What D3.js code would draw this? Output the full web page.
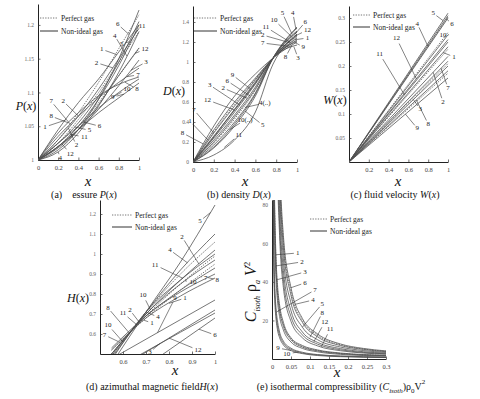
<!DOCTYPE html>
<html><head><meta charset="utf-8">
<script src="https://cdn.jsdelivr.net/npm/d3@7"></script>
<style>
body{margin:0;background:#fff}
svg{display:block}
svg text{font-family:'Liberation Serif','DejaVu Serif',serif !important}
</style>
</head><body>
<svg id="c" width="480" height="399" font-family="Liberation Serif, DejaVu Serif, serif"></svg>
<script>
// ---------------- DATA ----------------
// (a) pressure P(x): values at xGridP, curves 1..12
const xGridP = [0, 0.2, 0.4, 0.6, 0.8, 1];
const pressureNonIdeal = [
  [1, 1.045, 1.085, 1.12, 1.16, 1.2],
  [1, 1.03, 1.065, 1.105, 1.15, 1.195],
  [1, 1.02, 1.045, 1.075, 1.11, 1.148],
  [1, 1.012, 1.04, 1.08, 1.13, 1.19],
  [1, 1.025, 1.055, 1.095, 1.145, 1.205],
  [1, 1.015, 1.045, 1.09, 1.15, 1.222],
  [1, 1.035, 1.065, 1.092, 1.115, 1.136],
  [1, 1.04, 1.07, 1.095, 1.112, 1.123],
  [1, 1.02, 1.045, 1.07, 1.092, 1.114],
  [1, 1.025, 1.05, 1.077, 1.1, 1.12],
  [1, 1.02, 1.05, 1.09, 1.14, 1.2],
  [1, 1.018, 1.045, 1.082, 1.125, 1.166]
];
const pressurePerfect = [
  [1, 1.03, 1.07, 1.115, 1.165, 1.215],
  [1, 1.025, 1.06, 1.1, 1.145, 1.19],
  [1, 1.02, 1.05, 1.085, 1.125, 1.165]
];
// label text, text x, text y, curve number, curve x
const pressureLabels = [
  ["6",0.79,1.201,6,0.9],["11",1.03,1.199,11,0.96],["4",0.76,1.184,4,0.88],
  ["5",0.83,1.172,5,0.9],["12",1.06,1.164,12,0.96],["1",0.63,1.164,1,0.78],
  ["3",1.07,1.145,3,0.92],["2",0.58,1.144,2,0.74],["7",0.99,1.126,7,0.88],
  ["10",0.88,1.105,10,0.74],["8",0.98,1.105,8,0.86],["9",0.74,1.093,9,0.85],
  ["7",0.13,1.087,7,0.32],["2",0.25,1.087,2,0.4],["8",0.13,1.065,8,0.3],
  ["6",0.61,1.05,6,0.45],["1",0.07,1.049,1,0.27],["5",0.51,1.044,5,0.36],
  ["11",0.46,1.034,11,0.32],["2",0.38,1.022,2,0.3],["12",0.32,1.009,12,0.24],
  ["4",0.22,1.003,4,0.2]
];
const pressureXTicks = [0, 0.2, 0.4, 0.6, 0.8, 1];
const pressureYTicks = [1, 1.05, 1.1, 1.15, 1.2];

// (b) density D(x)
const xGridD = [0, 0.2, 0.4, 0.6, 0.77, 1];
const densityNonIdeal = [
  [0, 0.32, 0.6, 0.84, 1.04, 1.24],
  [0, 0.22, 0.47, 0.75, 1.04, 1.26],
  [0, 0.24, 0.5, 0.78, 1.04, 1.17],
  [0, 0.17, 0.4, 0.69, 1.04, 1.34],
  [0, 0.14, 0.36, 0.66, 1.04, 1.35],
  [0, 0.2, 0.45, 0.73, 1.04, 1.3],
  [0, 0.29, 0.56, 0.82, 1.04, 1.22],
  [0, 0.36, 0.66, 0.88, 1.04, 1.2],
  [0, 0.25, 0.53, 0.8, 1.04, 1.21],
  [0, 0.15, 0.38, 0.68, 1.04, 1.31],
  [0, 0.07, 0.22, 0.5, 0.98, 1.27],
  [0, 0.26, 0.52, 0.79, 1.04, 1.28]
];
const densityPerfect = [
  [0, 0.3, 0.58, 0.83, 1.04, 1.25],
  [0, 0.19, 0.43, 0.72, 1.04, 1.31],
  [0, 0.25, 0.52, 0.79, 1.04, 1.28]
];
const densityLabels = [
  ["5",0.86,1.49,5,0.95],["4",0.96,1.49,4,0.99],["6",1.08,1.4,6,0.98],
  ["10",0.78,1.42,10,0.95],["12",1.1,1.32,12,0.98],["11",0.7,1.35,11,0.94],
  ["1",1.1,1.24,1,0.98],["2",0.67,1.27,2,0.93],["7",0.67,1.19,7,0.92],
  ["9",1.06,1.15,9,0.98],["8",0.89,1.05,8,0.95],["3",1.01,1.04,3,0.97],
  ["9",0.38,0.87,9,0.55],["6",0.33,0.81,6,0.55],["3",0.16,0.77,3,0.45],
  ["2",0.29,0.74,2,0.52],["4(..)",0.69,0.59,4,0.5],["12",0.14,0.62,12,0.4],
  ["7",0.01,0.52,7,0.2],["5",0.67,0.37,5,0.5],["10(..)",0.5,0.42,10,0.35],
  ["1",-0.03,0.41,1,0.14],["8",-0.1,0.29,8,0.1],["11",0.44,0.27,11,0.3]
];
const densityXTicks = [0, 0.2, 0.4, 0.6, 0.8, 1];
const densityYTicks = [0, 0.2, 0.4, 0.6, 0.8, 1, 1.2, 1.4];

// (c) fluid velocity W(x)
const xGridW = [0, 1];
const velocityNonIdeal = [
  [0, 0.24], [0, 0.22], [0, 0.2], [0, 0.3], [0, 0.31], [0, 0.305],
  [0, 0.21], [0, 0.19], [0, 0.175], [0, 0.265], [0, 0.25], [0, 0.255]
];
const velocityPerfect = [[0, 0.302], [0, 0.27], [0, 0.235], [0, 0.205], [0, 0.185]];
const velocityLabels = [
  ["5",0.85,0.31,5,0.95],["6",1.04,0.288,6,0.98],["4",0.69,0.288,4,0.8],
  ["10",0.95,0.265,10,1.0],["12",0.48,0.258,12,0.68],["1",1.06,0.219,1,0.95],
  ["11",0.31,0.225,11,0.56],["7",1.0,0.154,7,0.93],["2",0.95,0.125,2,0.85],
  ["3",0.72,0.11,3,0.65],["8",0.8,0.079,8,0.68],["9",0.69,0.07,9,0.57]
];
const velocityXTicks = [0.2, 0.4, 0.6, 0.8, 1];
const velocityYTicks = [0.05, 0.1, 0.15, 0.2, 0.25, 0.3];

// (d) azimuthal magnetic field H(x)
const xGridH = [0.55, 0.7, 0.85, 1];
const fieldNonIdeal = [
  [0.52, 0.68, 0.79, 0.88],
  [0.5, 0.7, 0.87, 1.02],
  [0.417, 0.513, 0.609, 0.705],
  [0.48, 0.71, 0.92, 1.1],
  [0.45, 0.71, 0.96, 1.245],
  [0.32, 0.44, 0.56, 0.68],
  [0.53, 0.69, 0.82, 0.93],
  [0.5, 0.69, 0.81, 0.9],
  [0.476, 0.574, 0.672, 0.77],
  [0.49, 0.7, 0.85, 0.97],
  [0.47, 0.71, 0.87, 1.0],
  [0.404, 0.509, 0.615, 0.72]
];
const fieldPerfect = [
  [0.5, 0.69, 0.85, 0.99],
  [0.52, 0.68, 0.82, 0.95],
  [0.49, 0.71, 0.9, 1.06]
];
const fieldLabels = [
  ["5",0.935,1.165,5,0.98],["2",0.857,1.085,2,0.93],["4",0.804,1.02,4,0.88],
  ["11",0.74,0.945,11,0.86],["10",0.904,0.86,10,0.87],["7",0.96,0.88,7,0.94],
  ["8",1.01,0.87,8,0.97],["1",0.87,0.78,1,0.8],["10",0.687,0.795,10,0.72],
  ["2",0.63,0.72,2,0.67],["8",0.535,0.73,8,0.63],["11",0.6,0.705,11,0.66],
  ["10",0.535,0.645,10,0.6],["4",0.752,0.685,4,0.7],["1",0.726,0.655,1,0.69],
  ["7",0.52,0.595,7,0.58],["9",0.826,0.78,9,0.75],["3",0.717,0.51,3,0.76],
  ["12",0.926,0.52,12,0.8],["6",1.0,0.595,6,0.93]
];
const fieldXTicks = [0.6, 0.7, 0.8, 0.9, 1];
const fieldYTicks = [0.6, 0.7, 0.8, 0.9, 1, 1.1, 1.2];

// (e) isothermal compressibility
const xGridC = [0.003, 0.005, 0.0075, 0.01, 0.015, 0.02, 0.03, 0.05, 0.08, 0.12, 0.18, 0.24, 0.3];
const compNonIdeal = [
  [187, 112, 75, 56, 37, 28, 19, 11, 7, 4.7, 3.1, 2.3, 1.9],
  [167, 100, 67, 50, 33, 25, 17, 10, 6.2, 4.2, 2.8, 2.1, 1.7],
  [147, 88, 59, 44, 29, 22, 15, 8.8, 5.5, 3.7, 2.4, 1.8, 1.5],
  [1100, 560, 330, 230, 140, 97, 58, 33, 19, 11.5, 7, 5, 3.8],
  [1000, 520, 300, 210, 125, 88, 52, 29, 16.5, 10, 6.2, 4.4, 3.4],
  [1200, 600, 360, 250, 150, 105, 64, 37, 21, 13, 7.8, 5.5, 4.2],
  [95, 56, 37, 28, 19, 14, 9.3, 5.6, 3.5, 2.3, 1.6, 1.2, 1.0],
  [900, 480, 280, 190, 112, 78, 46, 25, 14, 8.6, 5.4, 3.8, 3.0],
  [85, 44, 29, 22, 14.5, 11, 7.3, 4.4, 2.8, 1.8, 1.2, 0.9, 0.75],
  [90, 50, 33, 25, 16.5, 12.5, 8.3, 5, 3.1, 2.1, 1.4, 1.05, 0.85],
  [780, 400, 240, 160, 94, 64, 37, 19.5, 11, 6.8, 4.3, 3.1, 2.5],
  [840, 440, 260, 175, 102, 70, 41, 22, 12.5, 7.7, 4.8, 3.4, 2.7]
];
const compPerfect = [
  [1150, 580, 345, 240, 145, 100, 61, 35, 20, 12.3, 7.4, 5.2, 4.0],
  [177, 106, 71, 53, 35, 26, 18, 10.5, 6.5, 4.4, 2.9, 2.2, 1.8]
];
const compLabels = [
  ["1",0.068,55,1,0.0105],["2",0.079,50.4,2,0.0105],["3",0.087,45.2,3,0.011],
  ["6",0.087,39.5,6,0.05],["7",0.113,35.8,7,0.012],["4",0.108,30.6,4,0.06],
  ["5",0.132,28.6,5,0.08],["8",0.132,23.9,8,0.1],["12",0.139,19.2,12,0.11],
  ["11",0.153,15.6,11,0.13],["9",0.016,5.7,9,0.05],["10",0.039,2.6,10,0.07]
];
const compXTicks = [0, 0.05, 0.1, 0.15, 0.2, 0.25, 0.3];
const compYTicks = [20, 40, 60, 80];

const legendText = ["Perfect gas", "Non-ideal gas"];

// ---------------- DRAWING ----------------
const SERIF = "Liberation Serif, DejaVu Serif, serif";
const svg = d3.select("#c");
const LINE = "#4a4a4a";
const fmt = d => String(+d.toFixed(2));

function interp(xs, vs, xv) {
  for (let i = 0; i < xs.length - 1; i++) {
    if (xv <= xs[i + 1]) {
      const t = (xv - xs[i]) / (xs[i + 1] - xs[i]);
      return vs[i] + t * (vs[i + 1] - vs[i]);
    }
  }
  return vs[vs.length - 1];
}

function panel(o) {
  const g = svg.append("g").attr("font-family", SERIF);
  const x = d3.scaleLinear().domain(o.xDomain).range(o.xRange);
  const y = d3.scaleLinear().domain(o.yDomain).range(o.yRange);
  const cid = "clip-" + o.key;
  svg.append("clipPath").attr("id", cid).append("rect")
    .attr("x", o.xRange[0]).attr("y", o.yRange[1])
    .attr("width", o.xRange[1] - o.xRange[0] + 3)
    .attr("height", o.yRange[0] - o.yRange[1]);

  const ax = d3.axisBottom(x).tickValues(o.xTicks).tickFormat(fmt)
    .tickSizeInner(-2.5).tickSizeOuter(0).tickPadding(5);
  const ay = d3.axisLeft(y).tickValues(o.yTicks).tickFormat(fmt)
    .tickSizeInner(-2.5).tickSizeOuter(0).tickPadding(4);
  const gx = g.append("g").attr("transform", `translate(0,${o.yRange[0]})`).call(ax);
  const gy = g.append("g").attr("transform", `translate(${o.xRange[0]},0)`).call(ay);
  [gx, gy].forEach(a => {
    a.attr("font-family", SERIF);
    a.select(".domain").attr("stroke", "#222").attr("stroke-width", 1);
    a.selectAll(".tick line").attr("stroke", "#333").attr("stroke-width", 0.7);
    a.selectAll(".tick text").attr("font-size", o.tickFont || 5.5).attr("fill", "#666");
  });
  gx.selectAll(".tick text").attr("font-size", o.xTickFont || 6.5).attr("fill", "#444");

  const line = d3.line().x(d => x(d[0])).y(d => y(d[1])).curve(d3.curveMonotoneX);
  const plot = g.append("g").attr("clip-path", `url(#${cid})`);
  o.nonIdeal.forEach(vs => {
    plot.append("path").attr("d", line(o.grid.map((xv, j) => [xv, vs[j]])))
      .attr("fill", "none").attr("stroke", LINE).attr("stroke-width", 0.75);
  });
  o.perfect.forEach(vs => {
    plot.append("path").attr("d", line(o.grid.map((xv, j) => [xv, vs[j]])))
      .attr("fill", "none").attr("stroke", "#555").attr("stroke-width", 0.8)
      .attr("stroke-dasharray", "1.4,1.2");
  });

  o.labels.forEach(([t, tx, ty, c, cx]) => {
    const px = x(tx), py = y(ty);
    const qx = x(cx), qy = y(interp(o.grid, o.nonIdeal[c - 1], cx));
    const dx = qx - px, dy = qy - py, len = Math.hypot(dx, dy) || 1;
    const off = t.length > 1 ? 6 : 4;
    g.append("line").attr("x1", px + dx / len * off).attr("y1", py + dy / len * off)
      .attr("x2", qx).attr("y2", qy).attr("stroke", "#333").attr("stroke-width", 0.6);
    g.append("text").attr("x", px).attr("y", py).attr("text-anchor", "middle")
      .attr("dominant-baseline", "central").attr("font-size", o.labelFont || 7)
      .attr("fill", "#222").text(t);
  });

  const L = o.legend;
  legendText.forEach((t, i) => {
    const yy = L[1] + i * L[3];
    g.append("line").attr("x1", L[0]).attr("x2", L[0] + L[2]).attr("y1", yy).attr("y2", yy)
      .attr("stroke", i === 0 ? "#666" : "#333").attr("stroke-width", i === 0 ? 0.9 : 1)
      .attr("stroke-dasharray", i === 0 ? "1.3,1.3" : null);
    g.append("text").attr("x", L[0] + L[2] + 3).attr("y", yy).attr("dominant-baseline", "central")
      .attr("font-size", 7.5).attr("fill", "#222").text(t);
  });

  g.append("text").attr("x", o.xLab[0]).attr("y", o.xLab[1]).attr("text-anchor", "middle")
    .attr("font-style", "italic").attr("font-size", 15).attr("fill", "#111").text("x");
  return { g, x, y };
}

panel({
  key: "a", xDomain: [0, 1], xRange: [38, 139], yDomain: [1, 1.231], yRange: [160, 4],
  grid: xGridP, nonIdeal: pressureNonIdeal, perfect: pressurePerfect, labels: pressureLabels,
  xTicks: pressureXTicks, yTicks: pressureYTicks, legend: [40, 18, 18, 13], xLab: [88, 186]
});
panel({
  key: "b", xDomain: [0, 1], xRange: [193, 297], yDomain: [0, 1.56], yRange: [162, 6],
  grid: xGridD, nonIdeal: densityNonIdeal, perfect: densityPerfect, labels: densityLabels,
  xTicks: densityXTicks, yTicks: densityYTicks, legend: [194, 18, 23, 13], xLab: [245, 186]
});
panel({
  key: "c", xDomain: [0, 1], xRange: [349, 448], yDomain: [0, 0.325], yRange: [162, 6],
  grid: xGridW, nonIdeal: velocityNonIdeal, perfect: velocityPerfect, labels: velocityLabels,
  xTicks: velocityXTicks, yTicks: velocityYTicks, legend: [353, 15, 17, 12], xLab: [398, 186]
});
panel({
  key: "d", xDomain: [0.5, 1], xRange: [100, 215], yDomain: [0.5, 1.27], yRange: [354, 200],
  grid: xGridH, nonIdeal: fieldNonIdeal, perfect: fieldPerfect, labels: fieldLabels,
  xTicks: fieldXTicks, yTicks: fieldYTicks, legend: [112, 215, 20, 12], xLab: [175, 375]
});
panel({
  key: "e", xDomain: [0, 0.3], xRange: [272, 386], yDomain: [0, 82.5], yRange: [359, 200],
  grid: xGridC, nonIdeal: compNonIdeal, perfect: compPerfect, labels: compLabels,
  xTicks: compXTicks, yTicks: compYTicks, legend: [310, 219, 17, 12], xLab: [337, 377]
});

function yLab(fn, xx, yy) {
  const t = svg.append("text").attr("x", xx).attr("y", yy).attr("text-anchor", "middle")
    .attr("font-family", SERIF).attr("font-size", 12).attr("fill", "#111");
  t.append("tspan").attr("font-style", "italic").text(fn);
  t.append("tspan").text("(");
  t.append("tspan").attr("font-style", "italic").text("x");
  t.append("tspan").text(")");
}
yLab("P", 26, 110);
yLab("D", 174, 95);
yLab("W", 335, 104);
yLab("H", 78, 302);

const ey = svg.append("text").attr("transform", "translate(256,292) rotate(-90)")
  .attr("font-family", SERIF).attr("text-anchor", "middle").attr("font-size", 16).attr("fill", "#111");
ey.append("tspan").attr("font-style", "italic").text("C");
ey.append("tspan").attr("font-size", 8).attr("font-style", "italic").attr("dy", 4).text("isoth");
ey.append("tspan").attr("dy", -4).text(" ρ");
ey.append("tspan").attr("font-size", 8).attr("font-style", "italic").attr("dy", 4).text("a");
ey.append("tspan").attr("dy", -4).attr("font-style", "italic").text(" V");
ey.append("tspan").attr("font-size", 9).attr("dy", -6).text("2");

function caption(xx, yy, parts) {
  const t = svg.append("text").attr("x", xx).attr("y", yy).attr("text-anchor", "middle")
    .attr("font-family", SERIF).attr("font-size", 10).attr("fill", "#111");
  parts.forEach(p => {
    const s = t.append("tspan").text(p[0]);
    if (p[1] === "i") s.attr("font-style", "italic");
    if (p[1] === "sub") s.attr("font-size", 7).attr("font-style", "italic").attr("dy", 2.5);
    if (p[1] === "up") s.attr("dy", -2.5);
    if (p[1] === "sub0") s.attr("font-size", 7).attr("dy", 2.5);
    if (p[1] === "sup") s.attr("font-size", 7).attr("dy", -6);
  });
  return t;
}
caption(84, 198, [["(a)\u00a0\u00a0\u00a0\u00a0essure "], ["P", "i"], ["("], ["x", "i"], [")"]]);
caption(239, 198, [["(b) density "], ["D", "i"], ["("], ["x", "i"], [")"]]);
caption(395, 198, [["(c) fluid velocity "], ["W", "i"], ["("], ["x", "i"], [")"]]);
caption(152, 390, [["(d) azimuthal magnetic field"], ["H", "i"], ["("], ["x", "i"], [")"]]);
caption(341, 390, [["(e) isothermal compressibility ("], ["C", "i"], ["isoth", "sub"], [")ρ", "up"],
  ["0", "sub0"], ["V", "up"], ["2", "sup"]]);
</script>
</body></html>
